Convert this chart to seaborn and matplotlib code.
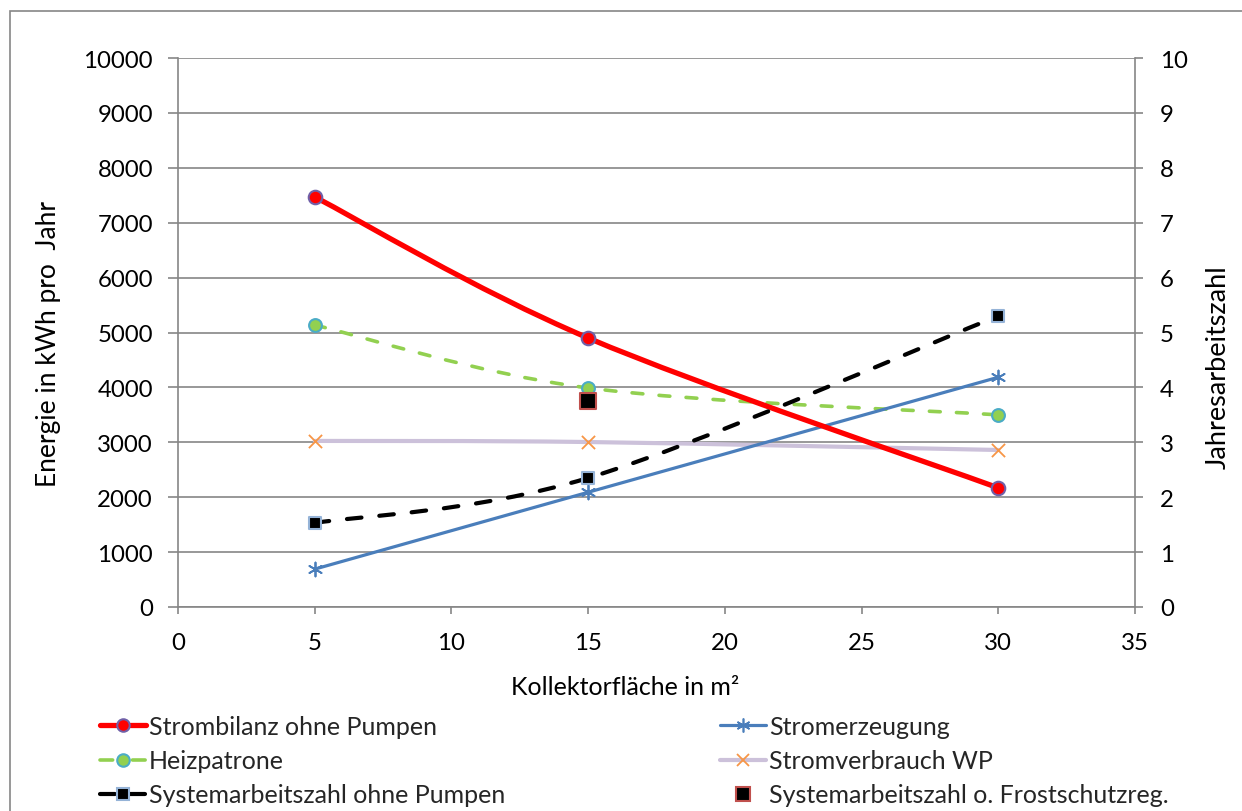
import numpy as np
import pandas as pd
import matplotlib
matplotlib.use("Agg")
import matplotlib.pyplot as plt
import seaborn as sns
from matplotlib.path import Path
from matplotlib.patches import PathPatch, Rectangle
from matplotlib.lines import Line2D

# ---------------- data ----------------
flaeche = [5, 15, 30]
strombilanz = [7470, 4900, 2170]
stromerzeugung = [690, 2090, 4185]
heizpatrone = [5135, 3990, 3500]
stromverbrauch_wp = [3025, 3005, 2860]
saz_ohne_pumpen = [1.53, 2.35, 5.30]
saz_frost_x = [15]
saz_frost = [3.75]

labels = ["Strombilanz ohne Pumpen", "Stromerzeugung", "Heizpatrone",
          "Stromverbrauch WP", "Systemarbeitszahl ohne Pumpen",
          "Systemarbeitszahl o. Frostschutzreg."]

# ---------------- style ----------------
sns.set_theme(style="white")
plt.rcParams["font.family"] = ["Lato", "DejaVu Sans"]
FS = 17.3
FS_LEG = 18
FS_LAB = 18.5
GREY = "#868686"

fig = plt.figure(figsize=(12.42, 8.12), dpi=100)
ax = fig.add_axes([178/1242, 1-608/812, (1135-178)/1242, (608-59)/812])
ax2 = ax.twinx()


def smooth_path(x, y):
    """Excel-like smoothed line: cubic Bezier through the points."""
    pts = np.column_stack([x, y]).astype(float)
    n = len(pts)
    verts = [pts[0]]
    codes = [Path.MOVETO]
    for i in range(n - 1):
        p0 = pts[i - 1] if i > 0 else pts[i]
        p1 = pts[i]
        p2 = pts[i + 1]
        p3 = pts[i + 2] if i + 2 < n else pts[i + 1]
        c1 = p1 + (p2 - p0) / 6.0
        c2 = p2 - (p3 - p1) / 6.0
        verts += [c1, c2, p2]
        codes += [Path.CURVE4] * 3
    return Path(verts, codes)


def add_curve(axis, x, y, color, lw, ls="-", z=2):
    patch = PathPatch(smooth_path(x, y), fill=False, edgecolor=color, lw=lw,
                      linestyle=ls, capstyle="round", joinstyle="round", zorder=z)
    axis.add_patch(patch)


DASH_G = (0, (3.0, 4.5))
DASH_K = (0, (3.5, 4.3))

# curves
add_curve(ax, flaeche, stromverbrauch_wp, "#CCC1DA", 3.0, z=2)
add_curve(ax, flaeche, heizpatrone, "#92D050", 2.6, DASH_G, z=2)
add_curve(ax, flaeche, stromerzeugung, "#4A7EBB", 2.3, z=2)
add_curve(ax, flaeche, strombilanz, "#FF0000", 3.8, z=3)
add_curve(ax2, flaeche, saz_ohne_pumpen, "#000000", 3.0, DASH_K, z=2)

# markers through seaborn
df = pd.DataFrame({"x": flaeche, "bil": strombilanz, "erz": stromerzeugung,
                   "hp": heizpatrone, "wp": stromverbrauch_wp, "saz": saz_ohne_pumpen})
sns.scatterplot(data=df, x="x", y="wp", ax=ax, marker="x", s=90, color="#F79646",
                linewidth=1.3, zorder=4, legend=False)
sns.scatterplot(data=df, x="x", y="hp", ax=ax, marker="o", s=85, color="#92D050",
                edgecolor="#4BACC6", linewidth=1.5, zorder=4, legend=False)
sns.scatterplot(data=df, x="x", y="erz", ax=ax, marker=(6, 2, 0), s=100, color="#4A7EBB",
                linewidth=1.3, zorder=4, legend=False)
sns.scatterplot(data=df, x="x", y="bil", ax=ax, marker="o", s=95, color="#FF0000",
                edgecolor="#7060A8", linewidth=1.5, zorder=5, legend=False)
sns.scatterplot(data=df, x="x", y="saz", ax=ax2, marker="s", s=75, color="#000000",
                edgecolor="#95B3D7", linewidth=1.5, zorder=5, legend=False)
sns.scatterplot(x=saz_frost_x, y=saz_frost, ax=ax2, marker="s", s=130, color="#000000",
                edgecolor="#C0504D", linewidth=1.5, zorder=5, legend=False)

# ---------------- axes ----------------
ax.set_xlim(0, 35)
ax.set_ylim(0, 10000)
ax2.set_ylim(0, 10)
ax.set_xticks(np.arange(0, 36, 5))
ax.set_yticks(np.arange(0, 10001, 1000))
ax2.set_yticks(np.arange(0, 11, 1))

ax.yaxis.grid(True, color=GREY, lw=1.2)
ax.xaxis.grid(False)
ax.set_axisbelow(True)
ax2.grid(False)

for a in (ax, ax2):
    for s in a.spines.values():
        s.set_color(GREY)
        s.set_linewidth(1.2)
    a.spines["top"].set_visible(False)
ax2.spines["left"].set_visible(False)
ax2.spines["bottom"].set_visible(False)
ax.spines["right"].set_visible(False)

ax.tick_params(axis="y", which="both", direction="out", length=7, width=1.2,
               color=GREY, pad=11, labelsize=FS, left=True, labelcolor="black")
ax.tick_params(axis="x", direction="out", length=5, width=1.2, color=GREY,
               pad=13, labelsize=FS, bottom=True, labelcolor="black")
ax2.tick_params(axis="y", direction="out", length=6, width=1.2, color=GREY,
                pad=12, labelsize=FS, right=True, labelcolor="black")

ax.set_xlabel("Kollektorfläche in m²", fontsize=FS_LEG, color="black")
ax.xaxis.set_label_coords((625-178)/957, (608-676)/549)
ax.set_ylabel("Energie in kWh pro  Jahr", fontsize=FS_LAB + 0.5, color="black")
ax.yaxis.set_label_coords((61-178)/957, (608-344)/549)
ax2.set_ylabel("Jahresarbeitszahl", fontsize=FS_LAB + 1, color="black", rotation=90)
ax2.yaxis.set_label_coords((1206-178)/957, (608-367)/549)

# ---------------- legend ----------------
h_bil = Line2D([], [], color="#FF0000", lw=3.8, marker="o", ms=9, mfc="#FF0000",
               mec="#7060A8", mew=1.5)
h_hp = Line2D([], [], color="#92D050", lw=2.6, ls=(0, (3.5, 5.5)), marker="o", ms=9,
              mfc="#92D050", mec="#4BACC6", mew=1.5, dash_capstyle="round")
h_saz = Line2D([], [], color="#000000", lw=3.0, ls=(0, (3.6, 3.6)), marker="s", ms=8,
               mfc="#000000", mec="#95B3D7", mew=1.5, dash_capstyle="round")
h_erz = Line2D([], [], color="#4A7EBB", lw=2.3, marker=(6, 2, 0), ms=10, mfc="#4A7EBB",
               mec="#4A7EBB", mew=1.2)
h_wp = Line2D([], [], color="#CCC1DA", lw=3.0, marker="x", ms=9, mec="#F79646", mew=1.3)
h_fr = Line2D([], [], ls="none", marker="s", ms=10, mfc="#000000", mec="#C0504D", mew=1.5)

common = dict(frameon=False, fontsize=FS_LEG, handlelength=1.85, handletextpad=0.1,
              labelspacing=0.45, borderpad=0, borderaxespad=0, loc="upper left")
fig.legend([h_bil, h_hp, h_saz], [labels[0], labels[2], labels[4]],
           bbox_to_anchor=(100/1242, 1-716/812), **common)
fig.legend([h_erz, h_wp, h_fr], [labels[1], labels[3], labels[5]],
           bbox_to_anchor=(720/1242, 1-716/812), **common)

# chart-area border (extends beyond the visible image)
fig.add_artist(Rectangle((10/1242, -0.2), 1.2, (1-12/812) + 0.2, fill=False,
                         edgecolor=GREY, lw=1.2, transform=fig.transFigure,
                         clip_on=False))

fig.savefig("out.png", dpi=100)
